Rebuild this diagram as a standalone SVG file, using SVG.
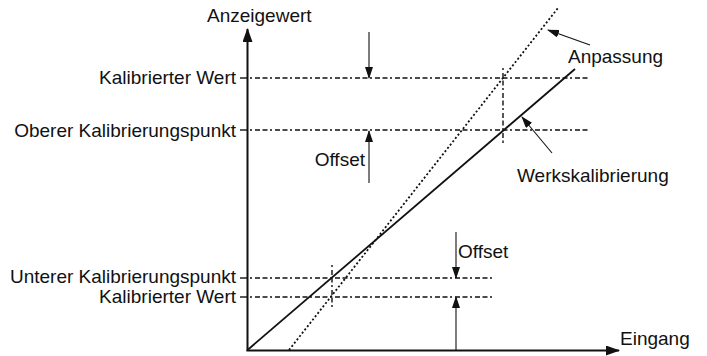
<svg xmlns="http://www.w3.org/2000/svg" width="707" height="356" viewBox="0 0 707 356">
<style>
text{font-family:"Liberation Sans",Arial,sans-serif;font-size:19px;fill:#111}
.ax{stroke:#111;stroke-width:2;fill:none}
.dd{stroke:#111;stroke-width:1.4;fill:none;stroke-dasharray:2 3 5 2.5 5 2.5}
.tk{stroke:#111;stroke-width:1.4}
.ar{stroke:#111;stroke-width:1.1;fill:none}
</style>
<defs>
<marker id="ah" markerUnits="userSpaceOnUse" markerWidth="14" markerHeight="10" viewBox="0 0 14 10" refX="13" refY="5" orient="auto">
<path d="M0,0 L14,5 L0,10 Z" fill="#111"/>
</marker>
<marker id="ahs" markerUnits="userSpaceOnUse" markerWidth="12" markerHeight="8" viewBox="0 0 12 8" refX="11" refY="4" orient="auto">
<path d="M0,0 L12,4 L0,8 Z" fill="#111"/>
</marker>
</defs>
<g id="axes">
<line class="ax" x1="247.5" y1="351" x2="247.5" y2="29" marker-end="url(#ah)"/>
<line class="ax" x1="246.5" y1="350.5" x2="619" y2="350.5" marker-end="url(#ah)"/>
</g>
<g id="connectors">
<line class="tk" x1="240" y1="78" x2="247" y2="78"/>
<line class="dd" x1="250" y1="78" x2="590" y2="78"/>
<line class="tk" x1="240" y1="130" x2="247" y2="130"/>
<line class="dd" x1="250" y1="130" x2="590" y2="130"/>
<line class="tk" x1="240" y1="278" x2="247" y2="278"/>
<line class="dd" x1="250" y1="278" x2="493" y2="278"/>
<line class="tk" x1="240" y1="297" x2="247" y2="297"/>
<line class="dd" x1="250" y1="297" x2="493" y2="297"/>
<line class="dd" x1="503" y1="68" x2="503" y2="143"/>
<line class="dd" x1="332" y1="265" x2="332" y2="308"/>
<line stroke="#111" stroke-width="1.8" x1="247.5" y1="350" x2="575" y2="69"/>
<line stroke="#111" stroke-width="1.8" stroke-dasharray="2 2.2" x1="289" y1="350" x2="558" y2="8"/>
<line class="ar" x1="369" y1="32" x2="369" y2="78" marker-end="url(#ahs)"/>
<line class="ar" x1="369" y1="183" x2="369" y2="131" marker-end="url(#ahs)"/>
<line class="ar" x1="456" y1="232" x2="456" y2="278" marker-end="url(#ahs)"/>
<line class="ar" x1="456" y1="350" x2="456" y2="297" marker-end="url(#ahs)"/>
<line class="ar" x1="590" y1="45" x2="548" y2="30" marker-end="url(#ahs)"/>
<line class="ar" x1="552" y1="153" x2="522" y2="117" marker-end="url(#ahs)"/>
</g>
<g id="labels">
<text x="207" y="22">Anzeigewert</text>
<text x="236" y="84" text-anchor="end">Kalibrierter Wert</text>
<text x="236" y="137" text-anchor="end">Oberer Kalibrierungspunkt</text>
<text x="365" y="166" text-anchor="end">Offset</text>
<text x="568" y="63">Anpassung</text>
<text x="517" y="182">Werkskalibrierung</text>
<text x="458" y="258">Offset</text>
<text x="236" y="283" text-anchor="end">Unterer Kalibrierungspunkt</text>
<text x="236" y="303" text-anchor="end">Kalibrierter Wert</text>
<text x="620" y="345">Eingang</text>
</g>
</svg>
